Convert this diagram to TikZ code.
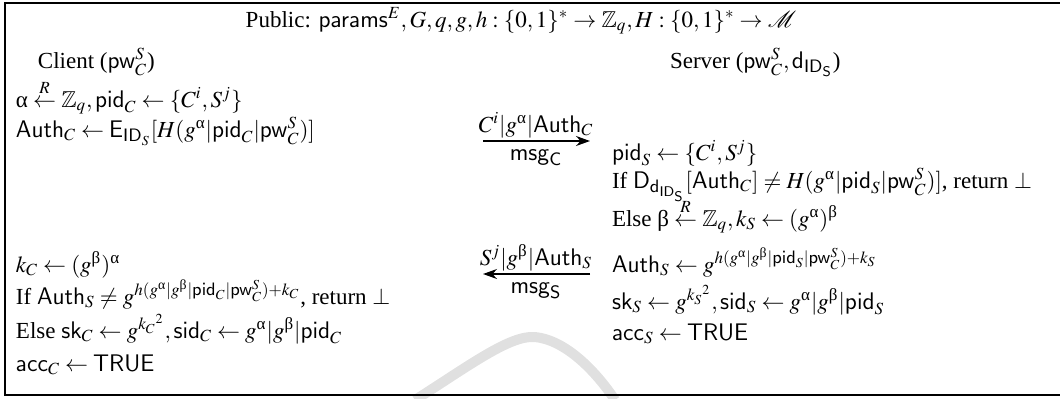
\documentclass[tikz,border=0pt]{standalone}
\usepackage{amsmath}
\usepackage{amssymb}
\usepackage{mathptmx}
\usepackage{fontspec}
\setmainfont{Liberation Serif}
\setsansfont{Liberation Sans}
\usetikzlibrary{arrows.meta}
\newcommand{\sff}[1]{\mathsf{#1}}
\newcommand{\ga}{\textup{α}}
\newcommand{\gb}{\textup{β}}
\tikzset{
  txt/.style={anchor=base west, inner sep=0pt, outer sep=0pt},
  lbl/.style={inner sep=0pt, outer sep=0pt},
  msgarrow/.style={line width=0.7pt, -{Stealth[length=7pt,width=5pt]}},
  frame/.style={line width=1.2pt},
  wmark/.style={draw=black!12, line width=5pt}
}
\begin{document}
\begin{tikzpicture}[x=0.5pt, y=-0.5pt, font=\fontsize{11.5}{14}\selectfont]
\useasboundingbox (0,0) rectangle (1060,398);
% faint background mark
\draw[wmark] (415,400) .. controls (470,365) and (510,335) .. (535,337) .. controls (565,340) and (595,370) .. (615,400);
\draw[frame] (1075,3) -- (5,3) -- (5,395) -- (1075,395);
% header
\node[lbl, anchor=base] (pub) at (521,27) {Public: $\sff{params}^E, G, q, g, h: \{0,1\}^{*} \rightarrow \mathbb{Z}_q, H: \{0,1\}^{*} \rightarrow \mathcal{M}$};
% titles
\node[txt] (cli) at (38,68) {Client ($\sff{pw}_C^S$)};
\node[txt] (srv) at (670,68) {Server ($\sff{pw}_C^S, \sff{d}_{\sff{ID}_\sff{S}}$)};
% client side
\node[txt] (c1) at (16,107) {$\ga \stackrel{R}{\leftarrow} \mathbb{Z}_q, \sff{pid}_C \leftarrow \{C^i, S^j\}$};
\node[txt] (c2) at (16,137) {$\sff{Auth}_C \leftarrow \sff{E}_{\sff{ID}_S}[H(g^{\ga}|\sff{pid}_C|\sff{pw}_C^S)]$};
\node[txt] (c3) at (16,272) {$k_C \leftarrow (g^{\gb})^{\ga}$};
\node[txt] (c4) at (16,304) {If $\sff{Auth}_S \neq g^{h(g^{\ga}|g^{\gb}|\sff{pid}_C|\sff{pw}_C^S)+k_C}$, return $\perp$};
\node[txt] (c5) at (16,338) {Else $\sff{sk}_C \leftarrow g^{{k_C}^2}, \sff{sid}_C \leftarrow g^{\ga}|g^{\gb}|\sff{pid}_C$};
\node[txt] (c6) at (16,371) {$\sff{acc}_C \leftarrow \sff{TRUE}$};
% server side
\node[txt] (s1) at (612,160) {$\sff{pid}_S \leftarrow \{C^i, S^j\}$};
\node[txt] (s2) at (612,188) {If $\sff{D}_{\sff{d}_{\sff{ID}_\sff{S}}}[\sff{Auth}_C] \neq H(g^{\ga}|\sff{pid}_S|\sff{pw}_C^S)]$, return $\perp$};
\node[txt] (s3) at (612,226) {Else $\gb \stackrel{R}{\leftarrow} \mathbb{Z}_q, k_S \leftarrow (g^{\ga})^{\gb}$};
\node[txt] (s4) at (612,272) {$\sff{Auth}_S \leftarrow g^{h(g^{\ga}|g^{\gb}|\sff{pid}_S|\sff{pw}_C^S)+k_S}$};
\node[txt] (s5) at (612,309) {$\sff{sk}_S \leftarrow g^{{k_S}^2}, \sff{sid}_S \leftarrow g^{\ga}|g^{\gb}|\sff{pid}_S$};
\node[txt] (s6) at (612,340) {$\sff{acc}_S \leftarrow \sff{TRUE}$};
% messages
\coordinate (m1a) at (483,141);
\coordinate (m1b) at (590,141);
\draw[msgarrow] (m1a) -- (m1b);
\node[lbl, anchor=south] (m1t) at (536,138) {$C^i|g^{\ga}|\sff{Auth}_C$};
\node[lbl, anchor=base] (m1l) at (536,160) {$\sff{msg}_{\sff{C}}$};
\coordinate (m2a) at (590,274);
\coordinate (m2b) at (483,274);
\draw[msgarrow] (m2a) -- (m2b);
\node[lbl, anchor=south] (m2t) at (536,271) {$S^j|g^{\gb}|\sff{Auth}_S$};
\node[lbl, anchor=base] (m2l) at (536,293) {$\sff{msg}_{\sff{S}}$};
\end{tikzpicture}
\end{document}
